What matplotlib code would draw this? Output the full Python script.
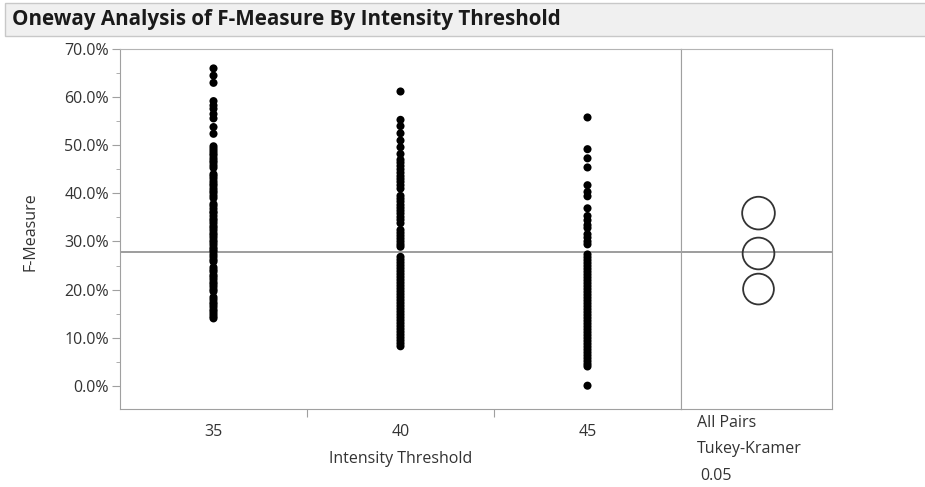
import matplotlib
matplotlib.use("Agg")
import matplotlib.pyplot as plt
from matplotlib.patches import Circle, Rectangle
from matplotlib.ticker import MultipleLocator, FuncFormatter

plt.rcParams['font.family'] = ['Open Sans', 'DejaVu Sans']

# ---- data (F-Measure, %) ----
categories = ["35", "40", "45"]

fm_35 = [66.0, 64.5, 63.0, 59.2, 58.3, 57.6, 56.5, 55.6, 53.8, 52.4, 49.8,
         49.3, 48.8, 48.3, 47.9, 47.3, 46.8, 46.4, 45.8, 45.3, 44.0, 43.6,
         43.1, 42.5, 42.0, 41.6, 41.0, 40.5, 40.1, 39.5, 39.0, 37.8, 37.4,
         36.8, 36.2, 35.9, 35.3, 34.7, 34.3, 33.8, 33.2, 32.8, 32.3, 31.7,
         31.3, 30.8, 30.2, 29.8, 29.3, 28.7, 28.3, 27.9, 27.3, 26.8, 26.2,
         25.8, 24.6, 24.1, 23.7, 23.0, 22.6, 22.1, 21.5, 21.1, 20.6, 20.0,
         19.6, 18.4, 17.9, 17.3, 16.9, 16.4, 15.8, 15.4, 14.9, 14.4, 14.0]

fm_40 = [61.2, 55.3, 54.0, 52.5, 51.0, 49.6, 48.2, 47.0, 46.4, 45.7, 45.0,
         44.3, 43.6, 43.0, 42.4, 41.7, 41.0, 39.5, 38.9, 38.3, 37.6, 37.0,
         36.4, 35.8, 35.1, 34.5, 33.8, 32.4, 31.8, 31.2, 30.6, 30.0, 29.4,
         28.9, 26.8, 26.2, 25.6, 25.0, 24.4, 23.8, 23.2, 22.6, 22.0, 21.4,
         20.8, 20.2, 19.6, 19.0, 18.4, 17.8, 17.2, 16.6, 16.0, 15.4, 14.8,
         14.2, 13.6, 13.0, 12.4, 11.8, 11.2, 10.6, 10.0, 9.4, 8.8, 8.2]

fm_45 = [55.8, 49.2, 47.3, 45.4, 41.7, 40.3, 39.4, 36.9, 35.3, 34.4, 33.4,
         32.8, 31.5, 30.8, 30.0, 29.4, 27.3, 26.7, 26.1, 25.5, 24.9, 24.3,
         23.7, 23.1, 22.5, 21.9, 21.3, 20.7, 20.1, 19.5, 18.9, 18.3, 17.7,
         17.1, 16.5, 15.9, 15.3, 14.7, 14.1, 13.5, 12.9, 12.3, 11.7, 11.1,
         10.5, 9.9, 9.3, 8.7, 8.1, 7.5, 6.9, 6.3, 5.7, 5.1, 4.5, 4.0, 0.0]

groups = [fm_35, fm_40, fm_45]
grand_mean = 27.9

# comparison circles (center %, radius %)
circle_centers = [35.9, 27.5, 20.1]
circle_radii = [3.4, 3.3, 3.2]

W, H = 925, 487
fig = plt.figure(figsize=(W / 100, H / 100), dpi=100)

def fx(px):
    return px / W

def fy(py):
    return 1 - py / H

# title bar
fig.patches.append(Rectangle((fx(5), fy(36)), fx(925 - 5) + 0.01, fy(3) - fy(36),
                             transform=fig.transFigure, facecolor='#f0f0f0',
                             edgecolor='#c8c8c8', linewidth=1.0, zorder=0))
fig.text(fx(12), fy(19.5), "Oneway Analysis of F-Measure By Intensity Threshold",
         fontsize=14.9, fontweight='bold', color='#1a1a1a', va='center', ha='left')

ylo, yhi = -4.85, 70.04
left, right, top, bottom = 120, 681, 49, 409
ax = fig.add_axes([fx(left), fy(bottom), fx(right - left), fy(top) - fy(bottom)])
ax.set_xlim(0.5, 3.5)
ax.set_ylim(ylo, yhi)

for i, vals in enumerate(groups):
    ax.scatter([i + 1] * len(vals), vals, s=34, color='black', edgecolors='none', zorder=3)

ax.axhline(grand_mean, color='#8c8c8c', linewidth=1.2, zorder=2)

gray = '#a0a0a0'
for sp in ax.spines.values():
    sp.set_color(gray)
ax.spines['top'].set_color('#b4b4b4')

fs = 11.5
ax.yaxis.set_major_locator(MultipleLocator(10))
ax.yaxis.set_minor_locator(MultipleLocator(5))
ax.yaxis.set_major_formatter(FuncFormatter(lambda v, p: f"{v:.1f}%"))
ax.tick_params(axis='y', which='major', length=6, color=gray, labelsize=fs,
               labelcolor='#333333', pad=2)
ax.tick_params(axis='y', which='minor', length=3, color=gray)

ax.set_xticks([1.5, 2.5])
ax.set_xticklabels([])
ax.tick_params(axis='x', which='major', length=6, color=gray)
for i, c in enumerate(categories):
    ax.text(i + 1, -0.042, c, transform=ax.get_xaxis_transform(), ha='center',
            va='top', fontsize=fs, color='#333333')

fig.text(fx(30), fy(232), "F-Measure", rotation=90, ha='center', va='center',
         fontsize=fs, color='#333333')
fig.text(fx(401), fy(459), "Intensity Threshold", ha='center', va='center',
         fontsize=fs, color='#333333')

# right comparison-circle panel
rleft, rright = 681, 832
ax2 = fig.add_axes([fx(rleft), fy(bottom), fx(rright - rleft), fy(top) - fy(bottom)])
ax2.set_ylim(ylo, yhi)
px_per_unit = (bottom - top) / (yhi - ylo)
ax2.set_xlim(0, (rright - rleft) / px_per_unit)
for sp in ax2.spines.values():
    sp.set_color(gray)
ax2.spines['top'].set_color('#b4b4b4')
ax2.set_xticks([])
ax2.set_yticks([])
ax2.axhline(grand_mean, color='#8c8c8c', linewidth=1.2, zorder=1)
cx = (758.5 - rleft) / px_per_unit
for c, r in zip(circle_centers, circle_radii):
    ax2.add_patch(Circle((cx, c), r, fill=False, edgecolor='#333333', linewidth=1.3, zorder=3))

fig.text(fx(697), fy(423), "All Pairs", ha='left', va='center', fontsize=fs, color='#333333')
fig.text(fx(697), fy(449), "Tukey-Kramer", ha='left', va='center', fontsize=fs, color='#333333')
fig.text(fx(700), fy(476), "0.05", ha='left', va='center', fontsize=fs, color='#333333')

fig.savefig("out.png", dpi=100)
